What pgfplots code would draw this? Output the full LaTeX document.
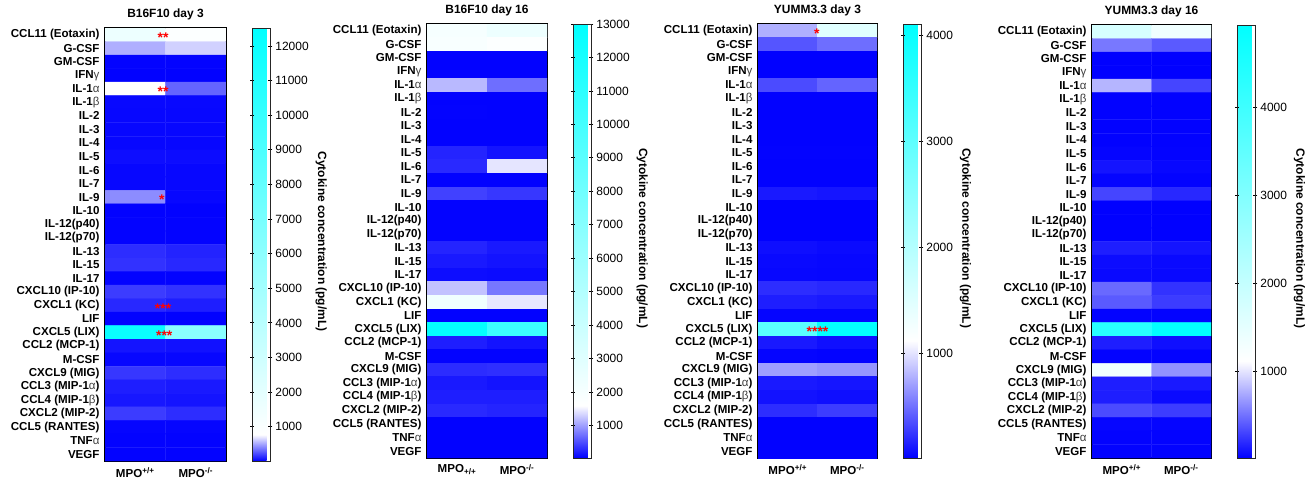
\documentclass[border=0pt]{standalone}
\usepackage{fontspec}
\setmainfont{Liberation Sans}
\usepackage{pgfplots}
\usepackage{pgfplotstable}
\pgfplotsset{compat=1.18}

% colour scales: blue -> white -> cyan, white point
\pgfplotsset{
  colormap={cmA}{rgb255(0pt)=(0,0,255) rgb255(61pt)=(255,255,255) rgb255(1000pt)=(0,255,255)},
  colormap={cmB}{rgb255(0pt)=(0,0,255) rgb255(121pt)=(255,255,255) rgb255(1000pt)=(0,255,255)},
  colormap={cmC}{rgb255(0pt)=(0,0,255) rgb255(271pt)=(255,255,255) rgb255(1000pt)=(0,255,255)},
  colormap={cmD}{rgb255(0pt)=(0,0,255) rgb255(224pt)=(255,255,255) rgb255(1000pt)=(0,255,255)},
}

\newcommand{\gr}[1]{{\mdseries\color{black!75}#1}}

\pgfplotsset{
  hm/.style={
    scale only axis, width=120bp, height=433bp, anchor=north west,
    xmin=-0.5, xmax=1.5, ymin=-0.5, ymax=31.5, y dir=reverse,
    enlargelimits=false,
    xtick={0,1}, ytick={0,...,31},
    yticklabels={{CCL11 (Eotaxin)},{G-CSF},{GM-CSF},{IFN\gr{γ}},{IL-1\gr{α}},{IL-1\gr{β}},
      {IL-2},{IL-3},{IL-4},{IL-5},{IL-6},{IL-7},{IL-9},{IL-10},{IL-12(p40)},{IL-12(p70)},
      {IL-13},{IL-15},{IL-17},{CXCL10 (IP-10)},{CXCL1 (KC)},{LIF},{CXCL5 (LIX)},
      {CCL2 (MCP-1)},{M-CSF},{CXCL9 (MIG)},{CCL3 (MIP-1\gr{α})},{CCL4 (MIP-1\gr{β})},
      {CXCL2 (MIP-2)},{CCL5 (RANTES)},{TNF\gr{α}},{VEGF}},
    xticklabels={MPO\textsuperscript{+/+},MPO\textsuperscript{-/-}},
    tick style={draw=none},
    yticklabel style={font=\bfseries\fontsize{11.6}{12}\selectfont, xshift=-2bp},
    xticklabel style={font=\bfseries\fontsize{11.6}{12}\selectfont, yshift=-3bp},
    axis line style={line width=1.8bp},
    title style={font=\bfseries\fontsize{12}{14}\selectfont, yshift=-1bp},
    point meta=explicit,
    colorbar,
    colorbar style={
      scale only axis, width=18bp,
      at={(parent axis.right of north east)}, anchor=north west, xshift=17bp,
      yticklabel pos=right, ytick pos=both, tick align=center,
      major tick length=4bp, scaled y ticks=false,
      tick style={black, line width=0.8bp},
      yticklabel style={font=\fontsize{12}{14}\selectfont, xshift=-0.5bp,
        /pgf/number format/1000 sep={}, /pgf/number format/assume math mode=true},
      ylabel={Cytokine concentration (pg/mL)},
      ylabel style={rotate=180, font=\bfseries\fontsize{12}{14}\selectfont, xshift=-3bp},
      axis line style={line width=0.8bp, black!85},
    },
  },
  stars/.style={only marks, mark=*, mark size=0pt, mark options={draw=none, fill=none},
    point meta=explicit symbolic, nodes near coords,
    nodes near coords style={text=red, anchor=center, yshift=-3bp,
      font=\bfseries\fontsize{14}{14}\selectfont, inner sep=0pt}},
}

% B16F10 day 3
\pgfplotstableread[row sep=\\]{
x y v\\
0 0 1600\\ 1 0 900\\ 0 1 535\\ 1 1 635\\ 0 2 20\\ 1 2 20\\ 0 3 15\\ 1 3 15\\
0 4 790\\ 1 4 310\\ 0 5 35\\ 1 5 35\\ 0 6 30\\ 1 6 30\\ 0 7 30\\ 1 7 30\\
0 8 30\\ 1 8 30\\ 0 9 50\\ 1 9 45\\ 0 10 30\\ 1 10 30\\ 0 11 30\\ 1 11 30\\
0 12 430\\ 1 12 30\\ 0 13 15\\ 1 13 15\\ 0 14 20\\ 1 14 20\\ 0 15 20\\ 1 15 20\\
0 16 145\\ 1 16 115\\ 0 17 160\\ 1 17 130\\ 0 18 20\\ 1 18 20\\ 0 19 190\\ 1 19 160\\
0 20 130\\ 1 20 100\\ 0 21 20\\ 1 21 15\\ 0 22 12050\\ 1 22 6200\\ 0 23 70\\ 1 23 60\\
0 24 30\\ 1 24 30\\ 0 25 175\\ 1 25 145\\ 0 26 100\\ 1 26 85\\ 0 27 80\\ 1 27 70\\
0 28 190\\ 1 28 145\\ 0 29 25\\ 1 29 25\\ 0 30 20\\ 1 30 20\\ 0 31 20\\ 1 31 20\\
}\tabA

% B16F10 day 16
\pgfplotstableread[row sep=\\]{
x y v\\
0 0 2000\\ 1 0 2400\\ 0 1 1900\\ 1 1 1750\\ 0 2 40\\ 1 2 40\\ 0 3 40\\ 1 3 40\\
0 4 1170\\ 1 4 705\\ 0 5 45\\ 1 5 45\\ 0 6 50\\ 1 6 45\\ 0 7 45\\ 1 7 45\\
0 8 45\\ 1 8 45\\ 0 9 250\\ 1 9 150\\ 0 10 280\\ 1 10 1440\\ 0 11 45\\ 1 11 45\\
0 12 430\\ 1 12 370\\ 0 13 50\\ 1 13 50\\ 0 14 50\\ 1 14 50\\ 0 15 50\\ 1 15 50\\
0 16 250\\ 1 16 185\\ 0 17 185\\ 1 17 150\\ 0 18 110\\ 1 18 100\\ 0 19 1225\\ 1 19 765\\
0 20 2280\\ 1 20 1450\\ 0 21 40\\ 1 21 40\\ 0 22 12800\\ 1 22 10300\\ 0 23 215\\ 1 23 150\\
0 24 50\\ 1 24 50\\ 0 25 300\\ 1 25 320\\ 0 26 185\\ 1 26 150\\ 0 27 215\\ 1 27 215\\
0 28 280\\ 1 28 250\\ 0 29 45\\ 1 29 45\\ 0 30 45\\ 1 30 45\\ 0 31 45\\ 1 31 45\\
}\tabB

% YUMM3.3 day 3
\pgfplotstableread[row sep=\\]{
x y v\\
0 0 775\\ 1 0 1480\\ 0 1 380\\ 1 1 490\\ 0 2 15\\ 1 2 15\\ 0 3 15\\ 1 3 15\\
0 4 335\\ 1 4 445\\ 0 5 20\\ 1 5 20\\ 0 6 20\\ 1 6 20\\ 0 7 20\\ 1 7 20\\
0 8 20\\ 1 8 20\\ 0 9 25\\ 1 9 25\\ 0 10 20\\ 1 10 20\\ 0 11 20\\ 1 11 20\\
0 12 120\\ 1 12 100\\ 0 13 15\\ 1 13 15\\ 0 14 15\\ 1 14 15\\ 0 15 15\\ 1 15 15\\
0 16 70\\ 1 16 55\\ 0 17 50\\ 1 17 40\\ 0 18 40\\ 1 18 35\\ 0 19 205\\ 1 19 185\\
0 20 140\\ 1 20 120\\ 0 21 30\\ 1 21 30\\ 0 22 3060\\ 1 22 4080\\ 0 23 120\\ 1 23 75\\
0 24 30\\ 1 24 25\\ 0 25 705\\ 1 25 665\\ 0 26 120\\ 1 26 100\\ 0 27 90\\ 1 27 70\\
0 28 205\\ 1 28 270\\ 0 29 20\\ 1 29 20\\ 0 30 20\\ 1 30 20\\ 0 31 20\\ 1 31 20\\
}\tabC

% YUMM3.3 day 16
\pgfplotstableread[row sep=\\]{
x y v\\
0 0 1725\\ 1 0 1345\\ 0 1 530\\ 1 1 400\\ 0 2 15\\ 1 2 15\\ 0 3 15\\ 1 3 15\\
0 4 795\\ 1 4 310\\ 0 5 20\\ 1 5 20\\ 0 6 20\\ 1 6 20\\ 0 7 20\\ 1 7 20\\
0 8 20\\ 1 8 20\\ 0 9 30\\ 1 9 25\\ 0 10 95\\ 1 10 40\\ 0 11 30\\ 1 11 25\\
0 12 310\\ 1 12 185\\ 0 13 15\\ 1 13 15\\ 0 14 15\\ 1 14 15\\ 0 15 15\\ 1 15 15\\
0 16 140\\ 1 16 95\\ 0 17 60\\ 1 17 50\\ 0 18 50\\ 1 18 45\\ 0 19 465\\ 1 19 225\\
0 20 400\\ 1 20 270\\ 0 21 25\\ 1 21 25\\ 0 22 4330\\ 1 22 4900\\ 0 23 140\\ 1 23 75\\
0 24 25\\ 1 24 25\\ 0 25 1345\\ 1 25 640\\ 0 26 140\\ 1 26 120\\ 0 27 140\\ 1 27 55\\
0 28 335\\ 1 28 270\\ 0 29 35\\ 1 29 30\\ 0 30 25\\ 1 30 25\\ 0 31 25\\ 1 31 25\\
}\tabD

\begin{document}
\begin{tikzpicture}
\path[use as bounding box] (0,0) rectangle (1305bp,-482bp);

\begin{axis}[hm, at={(105bp,-28bp)}, width=121bp, title={B16F10 day 3},
  colormap name=cmA, point meta min=10, point meta max=12520,
  colorbar style={ytick={1000,2000,...,12000}}]
  \addplot[matrix plot*, mesh/cols=2] table[meta=v] {\tabA};
  \addplot[stars] coordinates {(0.46,0)[**] (0.46,4)[**] (0.44,12)[*] (0.46,20)[***] (0.48,22)[***]};
\end{axis}

\begin{axis}[hm, at={(427bp,-24bp)}, height=434bp, title={B16F10 day 16},
  xticklabels={MPO\textsubscript{+/+},MPO\textsuperscript{-/-}},
  colormap name=cmB, point meta min=30, point meta max=13000,
  colorbar style={ytick={1000,2000,...,13000}}]
  \addplot[matrix plot*, mesh/cols=2] table[meta=v] {\tabB};
\end{axis}

\begin{axis}[hm, at={(758bp,-24bp)}, width=119bp, height=434bp, title={YUMM3.3 day 3},
  colormap name=cmC, point meta min=10, point meta max=4110,
  colorbar style={ytick={1000,2000,3000,4000}}]
  \addplot[matrix plot*, mesh/cols=2] table[meta=v] {\tabC};
  \addplot[stars] coordinates {(0.49,0)[*] (0.5,22)[****]};
\end{axis}

\begin{axis}[hm, at={(1092bp,-25bp)}, width=119bp, title={YUMM3.3 day 16},
  colormap name=cmD, point meta min=10, point meta max=4935,
  colorbar style={ytick={1000,2000,3000,4000}}]
  \addplot[matrix plot*, mesh/cols=2] table[meta=v] {\tabD};
\end{axis}
\end{tikzpicture}
\end{document}
